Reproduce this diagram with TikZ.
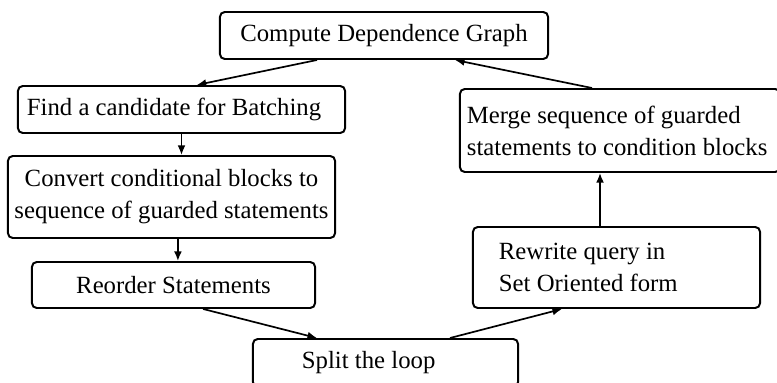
\documentclass[tikz,border=0pt]{standalone}
\usepackage{fontspec}
\setmainfont{Liberation Serif}
\usetikzlibrary{arrows.meta}

\begin{document}
\begin{tikzpicture}[x=0.0125cm, y=-0.0125cm,
		box/.style={draw, line width=0.7pt, rounded corners=0.06cm, inner sep=0pt,
			font=\fontsize{8.8}{11.4}\selectfont},
		flow/.style={line width=0.6pt, -{Latex[length=3.4pt,width=2.8pt]}}]
			%%%%% START %%%%%
			
			\useasboundingbox (0, 0) rectangle (777, 383);
			
			\node[box, minimum width=4.1cm, minimum height=0.5875cm] (cdg) at (384, 35.5) {Compute Dependence Graph};
			
			\node[box, minimum height=0.5875cm, inner xsep=0.1125cm, text width=3.8625cm, align=flush left] (find) at (181.5, 109.5) {Find a candidate for Batching};
			\node[box, minimum width=4.0875cm, minimum height=1.025cm, align=center] (conv) at (171.5, 197) {Convert conditional blocks to\\sequence of guarded statements};
			\node[box, minimum width=3.5375cm, minimum height=0.575cm] (reord) at (173.5, 285) {Reorder Statements};
			
			\node[box, minimum height=0.6cm, inner xsep=0.6125cm, text width=2.0875cm, align=flush left] (split) at (385.5, 363) {Split the loop};
			
			\node[box, minimum height=1.0125cm, inner xsep=0.325cm, text width=2.9375cm, align=flush left] (rew) at (616.5, 267.5) {Rewrite query in\\Set Oriented form};
			\node[box, minimum height=1.0375cm, inner xsep=0.0875cm, text width=3.825cm, align=flush left] (merge) at (620, 130.5) {Merge sequence of guarded\\statements to condition blocks};
			
			%%%%% ARROWS %%%%%
			
			\draw[flow] ([xshift=-0.8375cm]cdg.south) -- ([xshift=0.19cm]find.north);
			\draw[flow] (find.south) -- (find.south |- conv.north);
			\draw[flow] ([xshift=0.08cm]conv.south) -- ([xshift=0.08cm]conv.south |- reord.north);
			\draw[flow] ([xshift=0.37cm]reord.south) -- ([xshift=-0.856cm]split.north);
			\draw[flow] ([xshift=0.806cm]split.north) -- ([xshift=-0.681cm]rew.south);
			\draw[flow] ([xshift=-0.206cm]rew.north) -- ([xshift=-0.206cm]rew.north |- merge.south);
			\draw[flow] ([xshift=-0.35cm]merge.north) -- ([xshift=0.8875cm]cdg.south);
			
			%%%%% END %%%%%
		\end{tikzpicture}
\end{document}
